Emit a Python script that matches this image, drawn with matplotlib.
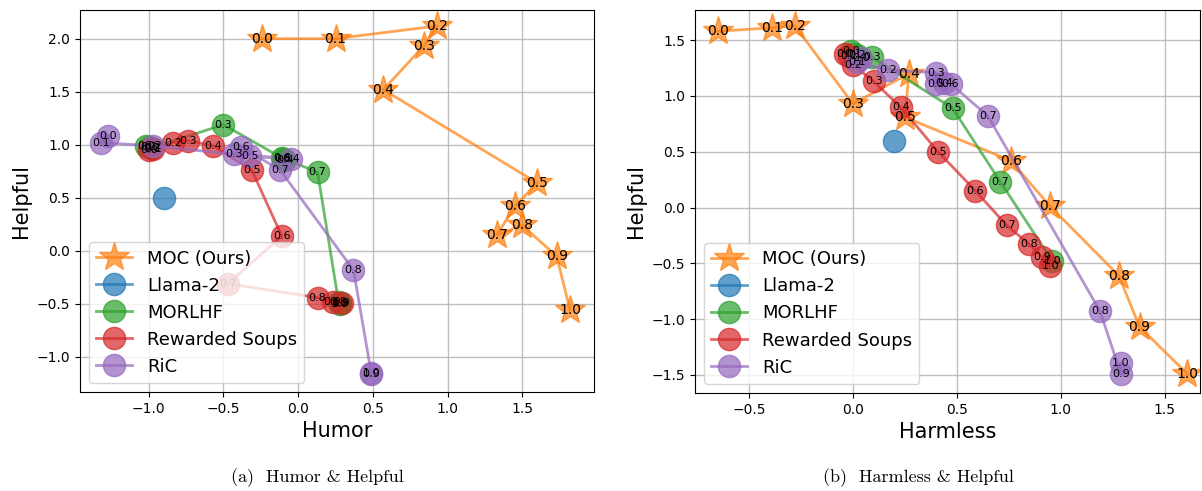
import matplotlib
matplotlib.use("Agg")
import matplotlib.pyplot as plt

weights = ["0.0", "0.1", "0.2", "0.3", "0.4", "0.5", "0.6", "0.7", "0.8", "0.9", "1.0"]

# ---- (a) Humor & Helpful ----
a_moc_x = [-0.24, 0.25, 0.93, 0.84, 0.57, 1.60, 1.45, 1.33, 1.50, 1.73, 1.82]
a_moc_y = [2.00, 2.00, 2.12, 1.93, 1.52, 0.64, 0.42, 0.15, 0.24, -0.05, -0.56]
a_llama_x = [-0.90]
a_llama_y = [0.50]
a_morlhf_w = ["0.0", "0.1", "0.2", "0.3", "0.4", "0.5", "0.6", "0.7", "0.8", "0.9", "1.0"]
a_morlhf_x = [-1.02, -1.00, -0.98, -0.50, -0.09, -0.10, -0.11, 0.13, 0.27, 0.28, 0.28]
a_morlhf_y = [0.99, 0.98, 0.97, 1.19, 0.86, 0.87, 0.88, 0.74, -0.48, -0.49, -0.50]
a_rs_x = [-1.00, -0.97, -0.84, -0.74, -0.57, -0.31, -0.11, -0.47, 0.13, 0.23, 0.29]
a_rs_y = [0.95, 0.96, 1.02, 1.04, 0.99, 0.76, 0.14, -0.31, -0.44, -0.48, -0.49]
a_ric_x = [-1.27, -1.32, -0.97, -0.43, -0.05, -0.32, -0.38, -0.12, 0.37, 0.49, 0.49]
a_ric_y = [1.08, 1.02, 0.99, 0.91, 0.87, 0.89, 0.98, 0.76, -0.18, -1.16, -1.15]

# ---- (b) Harmless & Helpful ----
b_moc_x = [-0.65, -0.39, -0.28, 0.00, 0.27, 0.25, 0.76, 0.95, 1.28, 1.38, 1.61]
b_moc_y = [1.58, 1.61, 1.63, 0.93, 1.20, 0.81, 0.42, 0.01, -0.61, -1.07, -1.49]
b_llama_x = [0.20]
b_llama_y = [0.60]
b_morlhf_w = ["0.0", "0.1", "0.2", "0.3", "0.5", "0.7", "1.0"]
b_morlhf_x = [-0.01, 0.00, 0.02, 0.09, 0.48, 0.71, 0.96]
b_morlhf_y = [1.40, 1.38, 1.37, 1.35, 0.89, 0.23, -0.48]
b_rs_x = [-0.04, -0.02, 0.00, 0.10, 0.23, 0.41, 0.59, 0.74, 0.85, 0.91, 0.95]
b_rs_y = [1.38, 1.36, 1.28, 1.13, 0.90, 0.50, 0.15, -0.16, -0.33, -0.44, -0.52]
b_ric_x = [0.04, 0.02, 0.17, 0.40, 0.44, 0.40, 0.47, 0.65, 1.19, 1.29, 1.29]
b_ric_y = [1.34, 1.30, 1.23, 1.21, 1.12, 1.11, 1.11, 0.82, -0.93, -1.49, -1.39]

fig = plt.figure(figsize=(12.02, 4.91), dpi=100)
ax1 = fig.add_axes([0.0666, 0.2016, 0.4276, 0.7780])
ax2 = fig.add_axes([0.5782, 0.2000, 0.4200, 0.7796])

def draw(ax, moc, llama, morlhf, rs, ric):
    ax.grid(True, color="#b0b0b0", linewidth=1.0, alpha=0.8)
    ax.set_axisbelow(True)
    ax.plot(moc[0], moc[1], marker="*", markersize=22, color="tab:orange",
            alpha=0.7, linewidth=2, label="MOC (Ours)")
    for x, y, t in zip(moc[0], moc[1], weights):
        ax.text(x, y, t, fontsize=10, ha="center", va="center")
    ax.plot(llama[0], llama[1], marker="o", markersize=16, color="tab:blue",
            alpha=0.7, linewidth=2, label="Llama-2")
    for data, c, lab in [(morlhf, "tab:green", "MORLHF"),
                         (rs, "tab:red", "Rewarded Soups"),
                         (ric, "tab:purple", "RiC")]:
        ax.plot(data[0], data[1], marker="o", markersize=16, color=c,
                alpha=0.7, linewidth=2, label=lab)
        w = data[2] if len(data) > 2 else weights
        for x, y, t in zip(data[0], data[1], w):
            ax.text(x, y, t, fontsize=8, ha="center", va="center")
    ax.legend(loc="lower left", fontsize=13, framealpha=0.8)
    ax.set_ylabel("Helpful", fontsize=15)
    ax.tick_params(labelsize=10)

draw(ax1, (a_moc_x, a_moc_y), (a_llama_x, a_llama_y),
     (a_morlhf_x, a_morlhf_y, a_morlhf_w),
     (a_rs_x, a_rs_y), (a_ric_x, a_ric_y))
ax1.set_xlim(-1.46, 1.98)
ax1.set_ylim(-1.33, 2.27)
ax1.set_xlabel("Humor", fontsize=15)

draw(ax2, (b_moc_x, b_moc_y), (b_llama_x, b_llama_y),
     (b_morlhf_x, b_morlhf_y, b_morlhf_w),
     (b_rs_x, b_rs_y), (b_ric_x, b_ric_y))
ax2.set_xlim(-0.76, 1.67)
ax2.set_ylim(-1.66, 1.77)
ax2.set_xlabel("Harmless", fontsize=15)

fig.text(0.264, 0.0265, "(a)  Humor & Helpful", ha="center", va="center",
         fontsize=13, family="cmr10")
fig.text(0.764, 0.0265, "(b)  Harmless & Helpful", ha="center", va="center",
         fontsize=13, family="cmr10")

fig.savefig("out.png", dpi=100)
